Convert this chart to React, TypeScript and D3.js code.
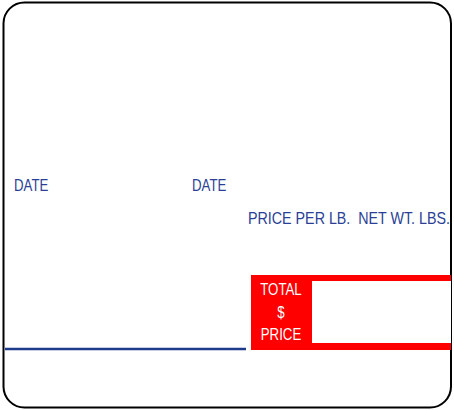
import React from 'react';
import * as d3 from 'd3';

const dateLabels = ['DATE', 'DATE'];
const priceLabels = ['PRICE PER LB.', 'NET WT. LBS.'];
const totalLines = ['TOTAL', '$', 'PRICE'];

const W = 454;
const H = 410;
const BLUE = '#2b3f96';
const RED = '#ff0000';
const FONT = '"Liberation Sans", Arial, sans-serif';
const SQUEEZE = 0.78; // no narrow face installed, so squeeze horizontally

const App = () => {
  // column positions for the two DATE fields
  const xDate = d3.scalePoint<string>().domain(['a', 'b']).range([14, 192]);
  // line positions inside the red TOTAL block
  const yTotal = d3.scalePoint<string>().domain(totalLines).range([295, 340]);

  return (
    <svg width={W} height={H} style={{ position: 'absolute', left: 0, top: 0 }}>
      <rect x={0} y={0} width={W} height={H} fill="#fff" />
      <rect x={3.5} y={2.5} width={447.5} height={405} rx={21} ry={21}
        fill="#fff" stroke="#000" strokeWidth={2} />

      {dateLabels.map((t, i) => (
        <text key={i} transform={`translate(${xDate(i === 0 ? 'a' : 'b')},191) scale(${SQUEEZE},1)`}
          fill={BLUE} fontFamily={FONT} fontSize={17}>{t}</text>
      ))}

      <text x={248} y={224} fill={BLUE} fontFamily={FONT} fontSize={17}
        textLength={202} lengthAdjust="spacingAndGlyphs"
        style={{ whiteSpace: 'pre' }}>{priceLabels.join('  ')}</text>

      <rect x={251} y={275} width={200} height={75} fill={RED} />
      <rect x={312} y={281} width={139} height={62} fill="#fff" />
      {totalLines.map(t => (
        <text key={t} transform={`translate(281,${yTotal(t)}) scale(${SQUEEZE},1)`}
          fill="#fff" textAnchor="middle" fontFamily={FONT} fontSize={17}>{t}</text>
      ))}

      <line x1={5} x2={246} y1={349} y2={349} stroke="#1e3a8a" strokeWidth={2.5} />
    </svg>
  );
};

export default App;
